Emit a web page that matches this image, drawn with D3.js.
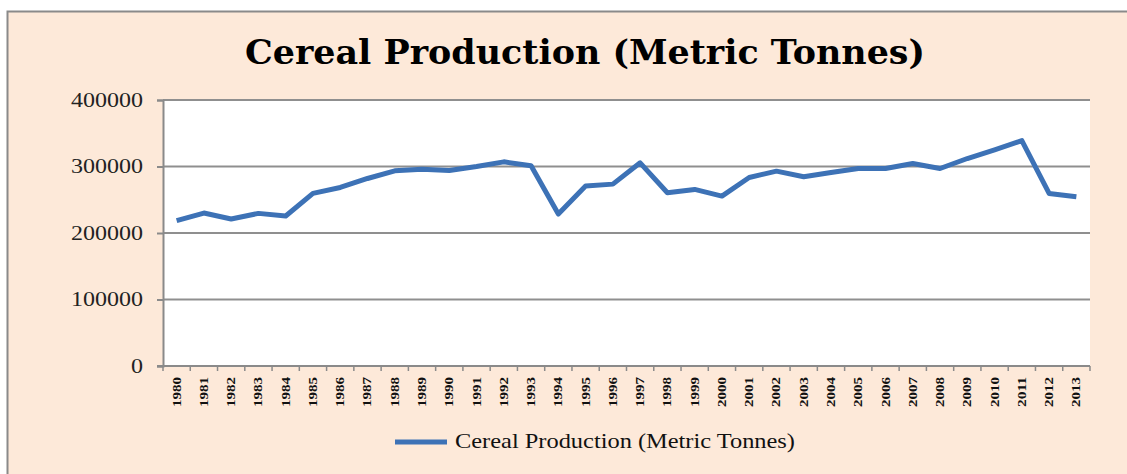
<!DOCTYPE html>
<html>
  <head>
    <meta charset="UTF-8">
    <title>Cereal Production (Metric Tonnes)</title>
    <script src="https://d3js.org/d3.v7.min.js" charset="utf-8"></script>
    <style>
      body { margin: 0; background: #fff; }
      svg { display: block; }
    </style>
  </head>
  <body>
    <script>
        var w = 1127;
        var h = 474;

        // data
        var years = ["1980","1981","1982","1983","1984","1985","1986","1987","1988","1989",
                     "1990","1991","1992","1993","1994","1995","1996","1997","1998","1999",
                     "2000","2001","2002","2003","2004","2005","2006","2007","2008","2009",
                     "2010","2011","2012","2013"];
        var production = [218500, 230000, 221000, 229500, 225500, 259500, 268500, 282000, 293500, 296000,
                          294000, 300000, 307000, 301000, 228500, 270500, 273500, 305500, 260500, 265500,
                          255500, 283500, 293000, 284500, 291000, 297000, 297000, 304500, 297000, 312000,
                          325000, 339000, 259500, 254500];
        var yTicks = [0, 100000, 200000, 300000, 400000];
        var seriesName = "Cereal Production (Metric Tonnes)";

        var plot = {left: 163, right: 1090, top: 100, bottom: 366};

        var svg = d3.select("body").append("svg")
            .attr("width", w)
            .attr("height", h);

        // chart background + border
        svg.append("rect")
            .attr("x", 7.5).attr("y", 11.5)
            .attr("width", 1130).attr("height", 480)
            .attr("fill", "#FDE9D9")
            .attr("stroke", "#8a8a8a")
            .attr("stroke-width", 2);

        // title
        svg.append("text")
            .attr("x", 585).attr("y", 64)
            .attr("text-anchor", "middle")
            .attr("font-family", "'DejaVu Serif', serif")
            .attr("font-weight", "bold")
            .attr("font-size", "34px")
            .attr("textLength", 680)
            .attr("lengthAdjust", "spacingAndGlyphs")
            .attr("fill", "#000")
            .text(seriesName);

        var x = d3.scaleBand()
            .domain(years)
            .range([plot.left, plot.right]);

        var y = d3.scaleLinear()
            .domain([0, 400000])
            .range([plot.bottom, plot.top]);

        // plot area
        svg.append("rect")
            .attr("x", plot.left).attr("y", plot.top)
            .attr("width", plot.right - plot.left)
            .attr("height", plot.bottom - plot.top)
            .attr("fill", "#fff");

        // gridlines
        svg.append("g").selectAll("line")
            .data(yTicks.filter(function(d){ return d > 0; }))
            .enter().append("line")
            .attr("x1", plot.left).attr("x2", plot.right)
            .attr("y1", function(d){ return y(d); })
            .attr("y2", function(d){ return y(d); })
            .attr("stroke", "#8f8f8f")
            .attr("stroke-width", 2);

        // y axis
        var yAxis = svg.append("g")
            .attr("transform", "translate(" + plot.left + ",0)")
            .call(d3.axisLeft(y).tickValues(yTicks).tickFormat(d3.format("d"))
                .tickSize(6).tickPadding(14));
        yAxis.select(".domain").attr("stroke", "#8a8a8a").attr("stroke-width", 2);
        yAxis.selectAll(".tick line").attr("stroke", "#8a8a8a").attr("stroke-width", 2);
        yAxis.selectAll(".tick text")
            .attr("font-family", "'Liberation Serif', serif")
            .attr("font-size", "20px")
            .attr("textLength", function(d){ return String(d).length * 12; })
            .attr("lengthAdjust", "spacingAndGlyphs")
            .attr("fill", "#222");

        // x axis line and boundary ticks
        svg.append("line")
            .attr("x1", plot.left - 6).attr("x2", plot.right)
            .attr("y1", plot.bottom).attr("y2", plot.bottom)
            .attr("stroke", "#8a8a8a").attr("stroke-width", 2);

        svg.append("g").selectAll("line")
            .data(years.concat(["end"]))
            .enter().append("line")
            .attr("x1", function(d, i){ return plot.left + i * x.bandwidth(); })
            .attr("x2", function(d, i){ return plot.left + i * x.bandwidth(); })
            .attr("y1", plot.bottom).attr("y2", plot.bottom + 5)
            .attr("stroke", "#8a8a8a").attr("stroke-width", 1.5);

        // rotated year labels
        svg.append("g").selectAll("text")
            .data(years)
            .enter().append("text")
            .attr("transform", function(d){
                return "translate(" + (x(d) + x.bandwidth() / 2 + 4) + "," + (plot.bottom + 11) + ") rotate(-90)";
            })
            .attr("text-anchor", "end")
            .attr("font-family", "'Liberation Serif', serif")
            .attr("font-weight", "bold")
            .attr("font-size", "12px")
            .attr("textLength", 30)
            .attr("lengthAdjust", "spacingAndGlyphs")
            .attr("fill", "#111")
            .text(function(d){ return d; });

        // series line
        var line = d3.line()
            .x(function(d, i){ return x(years[i]) + x.bandwidth() / 2; })
            .y(function(d){ return y(d); });

        svg.append("path")
            .datum(production)
            .attr("d", line)
            .attr("fill", "none")
            .attr("stroke", "#3D72B6")
            .attr("stroke-width", 5)
            .attr("stroke-linejoin", "round")
            .attr("stroke-linecap", "butt");

        // legend
        var legend = svg.append("g");
        legend.append("line")
            .attr("x1", 395).attr("x2", 447)
            .attr("y1", 442).attr("y2", 442)
            .attr("stroke", "#3D72B6")
            .attr("stroke-width", 5);
        legend.append("text")
            .attr("x", 455).attr("y", 448)
            .attr("font-family", "'Liberation Serif', serif")
            .attr("font-size", "21px")
            .attr("textLength", 340)
            .attr("lengthAdjust", "spacingAndGlyphs")
            .attr("fill", "#111")
            .text(seriesName);
    </script>
  </body>
</html>
